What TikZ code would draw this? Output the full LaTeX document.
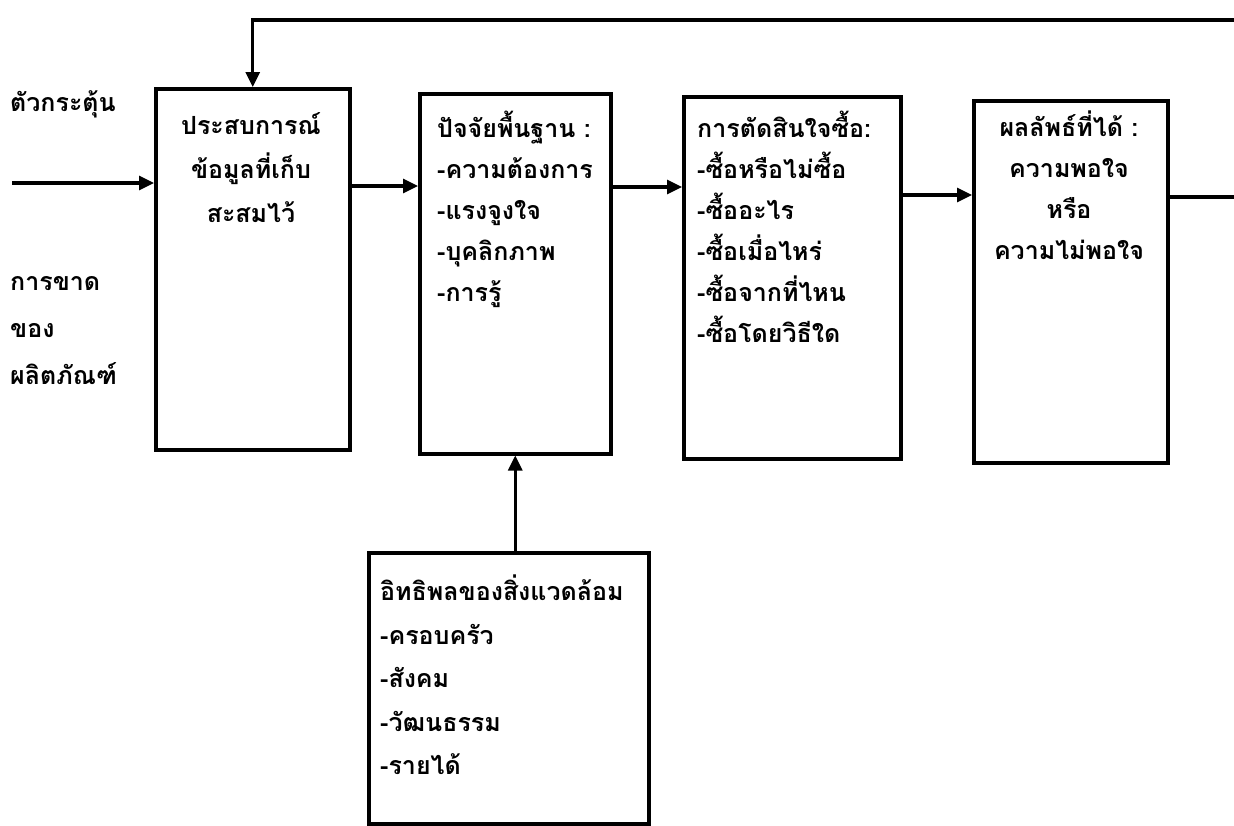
\documentclass[tikz,border=0pt]{standalone}
\usepackage{fontspec}
\newfontfamily\thai[Script=Thai]{Loma}
\usetikzlibrary{arrows.meta}
\begin{document}
\begin{tikzpicture}[x=1pt,y=-1pt,
  box/.style={draw, line width=3.5pt, anchor=north west, inner sep=0pt},
  lbl/.style={font=\thai\bfseries\fontsize{25}{41}\selectfont, inner sep=0pt},
  arr/.style={line width=3.2pt, -{Triangle[length=15pt,width=14pt]}},
  ln/.style={line width=3.2pt}]
\useasboundingbox (0,0) rectangle (1234,825);
% boxes
\node[box, minimum width=194pt, minimum height=361pt] (b1) at (154,87) {};
\node[box, minimum width=191pt, minimum height=360pt] (b2) at (418,92) {};
\node[box, minimum width=217pt, minimum height=362pt] (b3) at (682,95) {};
\node[box, minimum width=194pt, minimum height=362pt] (b4) at (972,99) {};
\node[box, minimum width=280pt, minimum height=271pt] (b5) at (367,551) {};
% texts
\node[lbl, align=center, anchor=north, font=\thai\bfseries\fontsize{25}{44}\selectfont] (t1) at (251,112) {ประสบการณ์\\ข้อมูลที่เก็บ\\สะสมไว้};
\node[lbl, align=left, anchor=north west] (t2) at (437,111) {ปัจจัยพื้นฐาน :\\-ความต้องการ\\-แรงจูงใจ\\-บุคลิกภาพ\\-การรู้};
\node[lbl, align=left, anchor=north west] (t3) at (697,111) {การตัดสินใจซื้อ:\\-ซื้อหรือไม่ซื้อ\\-ซื้ออะไร\\-ซื้อเมื่อไหร่\\-ซื้อจากที่ไหน\\-ซื้อโดยวิธีใด};
\node[lbl, align=center, anchor=north] (t4) at (1069,111) {ผลลัพธ์ที่ได้ :\\ความพอใจ\\หรือ\\ความไม่พอใจ};
\node[lbl, align=left, anchor=north west, font=\thai\bfseries\fontsize{25}{43.5}\selectfont] (t5) at (380,575) {อิทธิพลของสิ่งแวดล้อม\\-ครอบครัว\\-สังคม\\-วัฒนธรรม\\-รายได้};
\node[lbl, anchor=north west] (s1) at (10,90) {ตัวกระตุ้น};
\node[lbl, align=left, anchor=north west, font=\thai\bfseries\fontsize{25}{47}\selectfont] (s2) at (10,276) {การขาด\\ของ\\ผลิตภัณฑ์};
% connectors
\coordinate (in) at (12,183);
\coordinate (fb) at (1234,20);
\coordinate (out) at (1234,197);
\draw[arr] (in) -- (in -| b1.west);
\draw[arr] (b1.east |- 0,186) -- (b2.west |- 0,186);
\draw[arr] (b2.east |- 0,187) -- (b3.west |- 0,187);
\draw[arr] (b3.east |- 0,195) -- (b4.west |- 0,195);
\draw[ln] (out -| b4.east) -- (out);
\draw[arr] (fb) -| (b1.north);
\draw[arr] (b5.north -| b2.south) -- (b2.south);
\end{tikzpicture}
\end{document}
